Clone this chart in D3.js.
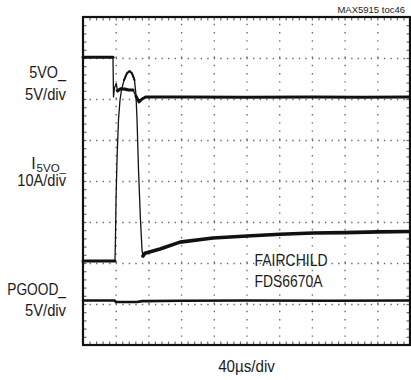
<!DOCTYPE html>
<html><head><meta charset="utf-8">
<script src="https://cdn.jsdelivr.net/npm/d3@7"></script>
<style>
html,body{margin:0;padding:0;background:#fff;}
svg{display:block;}
text{font-family:"Liberation Sans Narrow","Liberation Sans",Arial,sans-serif;fill:#1a1a1a;}
</style></head>
<body>
<script>
// ---- data (time in µs, value in vertical divisions from bottom of screen) ----
const timePerDiv = 40;          // 40µs/div
const xDivs = 10, yDivs = 8;

// 5VO_ trace
const vo5 = [[0,7.02],[36.7,7.02],[37.3,6.05],[38.5,6.27],[40.6,6.38],[42.2,6.2],[46,6.25],
  [51.4,6.24],[56,6.22],[61.2,6.22],[64.8,6.07],[68.5,5.93],[72.2,6.0],[77.1,6.05],[120,6.05],
  [200,6.04],[280,6.05],[340,6.04],[400,6.05]];
// I5VO_ trace
const i5vo = [[0,2.05],[39.1,2.05],[39.7,2.56],[40.4,3.54],[41.6,4.51],[43.4,5.49],[45.3,5.98],
  [47.1,6.22],[50.2,6.46],[53.8,6.63],[56.9,6.68],[59.9,6.63],[63,6.46],[64.8,6.1],[66.1,5.49],
  [67.9,4.27],[70.3,3.05],[72.2,2.32],[73.4,2.17],[75.8,2.24],[94.2,2.34],[118.7,2.51],[159,2.61],
  [200.6,2.66],[241,2.7],[281.3,2.73],[320.5,2.74],[360.9,2.76],[400,2.77]];
// PGOOD_ trace
const pgood = [[0,1.085],[38.5,1.085],[40.4,1.05],[66,1.05],[72.2,1.07],[120,1.08],[200,1.085],[300,1.08],[400,1.085]];

// labels
const leftLabels = [
  {t:"5VO_", y:77.5, w:36.7},
  {t:"5V/div", y:99.5, w:41},
  {t:"10A/div", y:186, w:48.7},
  {t:"PGOOD_", y:295, w:58.7},
  {t:"5V/div", y:315.7, w:41}
];
const noteLines = [{t:"FAIRCHILD", y:266, w:73},{t:"FDS6670A", y:286.7, w:68}];
const xLabel = "40µs/div";
const tocLabel = "MAX5915 toc46";

// ---- drawing ----
const W = 411, H = 380;
const L = 83, R = 410, T = 17, B = 345;
const svg = d3.select("body").append("svg").attr("width", W).attr("height", H);

const x = d3.scaleLinear().domain([0, xDivs*timePerDiv]).range([L, R]);
const y = d3.scaleLinear().domain([0, yDivs]).range([B, T]);

const dot = "#6a6a6a";
// grid (dotted major division lines)
const gx = svg.append("g").attr("transform", `translate(0,${B})`)
  .call(d3.axisBottom(x).tickValues(d3.range(1, xDivs).map(k => k*timePerDiv)).tickSize(-(B-T)).tickFormat(""));
gx.select(".domain").remove();
gx.selectAll("line").attr("stroke", dot).attr("stroke-width", 1.4)
  .attr("stroke-dasharray", `1.4 ${(B-T)/yDivs/5-1.4}`);

const gy = svg.append("g").attr("transform", `translate(${L},0)`)
  .call(d3.axisLeft(y).tickValues(d3.range(1, yDivs)).tickSize(-(R-L)).tickFormat(""));
gy.select(".domain").remove();
gy.selectAll("line").attr("stroke", dot).attr("stroke-width", 1.4)
  .attr("stroke-dasharray", `1.4 ${(R-L)/xDivs/5-1.4}`);

// minor ticks along frame edges
const minorX = d3.range(1, xDivs*5).map(k => k*timePerDiv/5);
const minorY = d3.range(1, yDivs*5).map(k => k/5);
[[d3.axisBottom(x).tickValues(minorX).tickSize(-2.5), `translate(0,${B-1})`],
 [d3.axisTop(x).tickValues(minorX).tickSize(-2.5), `translate(0,${T+1})`],
 [d3.axisLeft(y).tickValues(minorY).tickSize(-2.5), `translate(${L+1},0)`],
 [d3.axisRight(y).tickValues(minorY).tickSize(-2.5), `translate(${R-1},0)`]].forEach(([ax, tr]) => {
  const g = svg.append("g").attr("transform", tr).call(ax.tickFormat(""));
  g.select(".domain").remove();
  g.selectAll("line").attr("stroke", dot).attr("stroke-width", 1.2);
});

// traces
const line = d3.line().x(d => x(d[0])).y(d => y(d[1]));
const tr = svg.append("g").attr("fill", "none").attr("stroke", "#111")
  .attr("stroke-linejoin", "round").attr("stroke-linecap", "round");
tr.append("path").attr("d", line(vo5)).attr("stroke-width", 1.3);
tr.append("path").attr("d", line(vo5.filter(d => d[0] <= 36.7))).attr("stroke-width", 3);
tr.append("path").attr("d", line(vo5.filter(d => d[0] >= 42.2 && d[0] <= 61.2))).attr("stroke-width", 3.2);
tr.append("path").attr("d", line(vo5.filter(d => d[0] >= 64.8))).attr("stroke-width", 3);
tr.append("path").attr("d", line(i5vo)).attr("stroke-width", 1.3);
tr.append("path").attr("d", line(i5vo.filter(d => d[0] <= 39.1))).attr("stroke-width", 3);
tr.append("path").attr("d", line(i5vo.filter(d => d[0] >= 50.2 && d[0] <= 63))).attr("stroke-width", 2);
tr.append("path").attr("d", line(i5vo.filter(d => d[0] >= 73.4))).attr("stroke-width", 3.6);
tr.append("path").attr("d", line(pgood)).attr("stroke-width", 2.6);

// frame
svg.append("rect").attr("x", L).attr("y", T).attr("width", R-L).attr("height", B-T)
  .attr("fill", "none").attr("stroke", "#111").attr("stroke-width", 2.2);

// labels
const fs = 16;
svg.selectAll("text.ll").data(leftLabels).join("text").attr("class", "ll")
  .attr("x", 66).attr("y", d => d.y).attr("text-anchor", "end").attr("font-size", fs)
  .attr("textLength", d => d.w).attr("lengthAdjust", "spacingAndGlyphs").text(d => d.t);
// I with subscript 5VO_
const iLab = svg.append("text").attr("x", 66).attr("y", 168.5).attr("text-anchor", "end").attr("font-size", fs);
iLab.append("tspan").text("I");
iLab.append("tspan").attr("font-size", 11.5).attr("dy", 3).attr("dx", 1).text("5VO_");

svg.selectAll("text.note").data(noteLines).join("text").attr("class", "note")
  .attr("x", 254.5).attr("y", d => d.y).attr("font-size", 16.5)
  .attr("textLength", d => d.w).attr("lengthAdjust", "spacingAndGlyphs").text(d => d.t);

svg.append("text").attr("x", (L+R)/2).attr("y", 371.7).attr("text-anchor", "middle")
  .attr("font-size", 16).attr("textLength", 56.7).attr("lengthAdjust", "spacingAndGlyphs").text(xLabel);
svg.append("text").attr("x", 405).attr("y", 12.5).attr("text-anchor", "end")
  .attr("font-size", 9.5).text(tocLabel);
</script>
</body></html>
